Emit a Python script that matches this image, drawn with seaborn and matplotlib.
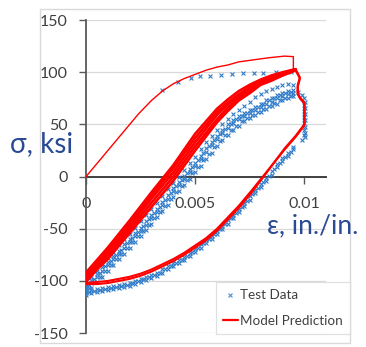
import matplotlib
matplotlib.use("Agg")
import matplotlib.pyplot as plt
from matplotlib.lines import Line2D
from matplotlib.patches import Rectangle
import seaborn as sns

# ---------------- data ----------------
# Model prediction: initial monotonic loading
model_mono_strain = [0, 0.0006, 0.0012, 0.0018, 0.0024, 0.003, 0.0035, 0.004, 0.0045, 0.005,
                     0.0055, 0.006, 0.0065, 0.007, 0.0077, 0.0084, 0.0091, 0.0095, 0.0095]
model_mono_stress = [0, 15, 30, 45, 60, 73, 82, 89, 94, 98,
                     102, 105, 107, 110, 112, 114, 115.5, 115, 103]

# Model prediction: reloading branches (several cycles)
model_reload_strain = [0, 0.0005, 0.001, 0.002, 0.003, 0.004, 0.005, 0.006, 0.0065, 0.007,
                       0.0075, 0.008, 0.0085, 0.009, 0.0096]
model_reload_c1 = [-92, -80, -68, -42, -15, 11, 41, 65, 74, 82, 88, 93, 97, 100, 103]
model_reload_c2 = [-95, -83, -71, -45, -18, 8, 37, 62, 71, 79, 86, 91, 95, 99, 103]
model_reload_c3 = [-97, -85, -74, -48, -21, 4, 33, 59, 69, 77, 84, 90, 94, 98, 102]
model_reload_c4 = [-99, -87, -77, -51, -25, 0, 29, 55, 66, 75, 82, 89, 93, 97, 102]
model_reload_c5 = [-101, -89, -79, -54, -29, -4, 25, 52, 63, 73, 80, 88, 92, 97, 102]

# Model prediction: unloading branches
model_unload_strain = [0.0096, 0.0098, 0.0097, 0.0097, 0.0098, 0.0100, 0.0100, 0.0096,
                       0.0091, 0.0086, 0.0081, 0.0076, 0.007, 0.0065, 0.006, 0.0055, 0.005,
                       0.0045, 0.004, 0.0035, 0.003, 0.0025, 0.002, 0.0015, 0.001, 0.0005, 0.0]
model_unload_a = [102, 94, 86, 79, 75, 70, 49, 38, 26, 13, 0, -13, -28, -39, -50, -59, -66,
                  -73, -79, -84, -89, -93, -96, -98, -100, -101, -102]
model_unload_b = [103, 95, 88, 80, 76, 71, 50, 39, 27, 13, -1, -15, -30, -41, -52, -61, -68,
                  -75, -81, -86, -91, -95, -98, -100, -102, -103, -103]

# Test data: initial monotonic loading
test_mono_strain = [0.0035, 0.0042, 0.0048, 0.0052, 0.0057, 0.0062, 0.0067, 0.0072, 0.0077,
                    0.0081, 0.0087, 0.0094]
test_mono_stress = [83, 91, 95, 96, 96.5, 97.5, 98, 99, 99.5, 99.5, 100, 100.5]

# Test data: cyclic branches, sampled on two interleaved strain grids
test_branch_strain = [0, 0.00025, 0.0005, 0.00075, 0.001, 0.00125, 0.0015, 0.00175, 0.002, 0.00225,
                      0.0025, 0.00275, 0.003, 0.00325, 0.0035, 0.00375, 0.004, 0.00425, 0.0045,
                      0.00475, 0.005, 0.00525, 0.0055, 0.00575, 0.006, 0.00625, 0.0065, 0.00675,
                      0.007, 0.00725, 0.0075, 0.00775, 0.008, 0.00825, 0.0085, 0.00875, 0.009,
                      0.00925, 0.0095]
test_branch_strain_b = [0.000125, 0.000375, 0.000625, 0.000875, 0.001125, 0.001375, 0.001625,
                        0.001875, 0.002125, 0.002375, 0.002625, 0.002875, 0.003125, 0.003375,
                        0.003625, 0.003875, 0.004125, 0.004375, 0.004625, 0.004875, 0.005125,
                        0.005375, 0.005625, 0.005875, 0.006125, 0.006375, 0.006625, 0.006875,
                        0.007125, 0.007375, 0.007625, 0.007875, 0.008125, 0.008375, 0.008625,
                        0.008875, 0.009125, 0.009375]

# Test data: reloading branches
test_reload_c1 = [-103, -96, -90, -84, -78, -72, -66, -60, -55, -49, -43, -37, -31, -25, -19, -12,
                  -6, 0, 6, 13, 19, 26, 33, 39, 45, 50, 55, 60, 64, 68, 72, 76, 79, 82, 84, 86,
                  88, 89, 88]
test_reload_c2 = [-106, -99, -93, -87, -82, -76, -71, -65, -60, -54, -49, -43, -37, -31, -24, -18,
                  -11, -5, 1, 7, 13, 20, 27, 33, 39, 45, 50, 54, 58, 61, 64, 67, 70, 73, 75, 78,
                  80, 82, 83]
test_reload_c3 = [-108, -102, -96, -90, -85, -79, -74, -68, -63, -57, -52, -46, -40, -34, -27, -21,
                  -14, -8, -2, 4, 10, 17, 24, 30, 36, 42, 47, 51, 55, 58, 61, 64, 67, 70, 72, 75,
                  77, 79, 80]
test_reload_c4 = [-112, -107, -101, -96, -90, -85, -79, -74, -68, -63, -57, -51, -45, -39, -33, -27,
                  -20, -14, -8, -2, 4, 10, 17, 23, 29, 35, 40, 45, 49, 53, 56, 59, 62, 65, 68, 70,
                  73, 75, 77]
test_reload_b1 = [-104, -98, -92, -86, -81, -75, -70, -64, -59, -53, -47, -41, -35, -29, -22, -16,
                  -9, -3, 3, 9, 16, 23, 29, 35, 41, 46, 50, 55, 58, 61, 64, 67, 70, 73, 75, 78,
                  80, 81]
test_reload_b2 = [-107, -101, -96, -90, -85, -79, -74, -68, -63, -57, -52, -46, -40, -34, -28, -21,
                  -15, -9, -3, 3, 9, 16, 22, 28, 34, 40, 45, 49, 53, 56, 59, 62, 65, 68, 71, 73,
                  75, 77]

# Test data: drop at peak strain
test_drop_strain = [0.0097, 0.0099, 0.0100, 0.01005, 0.0100, 0.01005, 0.0100, 0.01005, 0.0100,
                    0.01005, 0.0100, 0.01005, 0.0100, 0.01005, 0.0100, 0.01005, 0.0099]
test_drop_stress = [81, 78, 75, 72, 69, 66, 63, 60, 57, 54, 51, 48, 45, 42, 40, 38, 35]

# Test data: unloading branches
test_unload_c1 = [-110, -109, -108, -107, -106, -105, -104, -103, -102, -100, -98, -96, -94, -92,
                  -89, -86, -83, -80, -77, -73, -69, -65, -61, -57, -52, -47, -42, -37, -31, -25,
                  -19, -13, -7, -1, 5, 12, 18, 23, 28]
test_unload_c2 = [-113, -112, -111, -110, -109, -108, -107, -106, -105, -103, -101, -99, -97, -95,
                  -92, -89, -86, -83, -80, -76, -72, -68, -64, -60, -55, -50, -45, -40, -34, -28,
                  -22, -16, -10, -4, 2, 9, 15, 20, 26]
test_unload_b1 = [-111, -110, -109, -108, -107, -106, -105, -104, -102, -100, -98, -96, -94, -92,
                  -89, -86, -83, -80, -76, -72, -68, -64, -60, -55, -50, -45, -40, -35, -29, -23,
                  -17, -11, -5, 1, 7, 13, 19, 24]

x_ticks = [0, 0.005, 0.01]
x_tick_labels = ["0", "0.005", "0.01"]
y_ticks = [-150, -100, -50, 0, 50, 100, 150]

# ---------------- style ----------------
sns.set_style("white")
plt.rcParams["font.family"] = ["Lato", "Open Sans", "DejaVu Sans"]
plt.rcParams["axes.unicode_minus"] = False

RED = "#FF0000"
BLUE = "#2F7BC8"
LEG_BLUE = "#5B9BD5"
LABEL_BLUE = "#2A4A94"
GRID = "#D9D9D9"
AXIS = "#595959"

fig = plt.figure(figsize=(3.66, 3.47), dpi=100)
ax = fig.add_axes([0.235, 0.040, 0.656, 0.902])

# outer chart frame
fig.patches.append(Rectangle((40 / 366, 4 / 347), 310 / 366, 334 / 347,
                             transform=fig.transFigure, fill=False,
                             edgecolor=GRID, lw=1.0))

# ---------------- test data (markers) ----------------
mk = dict(marker="x", color=BLUE, s=8, linewidth=0.8, ax=ax, legend=False, zorder=3)
sns.scatterplot(x=test_mono_strain, y=test_mono_stress, **mk)
for ys in (test_reload_c1, test_reload_c2, test_reload_c3, test_reload_c4):
    sns.scatterplot(x=test_branch_strain, y=ys, **mk)
for ys in (test_reload_b1, test_reload_b2):
    sns.scatterplot(x=test_branch_strain_b, y=ys, **mk)
sns.scatterplot(x=test_drop_strain, y=test_drop_stress, **mk)
for ys in (test_unload_c1, test_unload_c2):
    sns.scatterplot(x=test_branch_strain, y=ys, **mk)
sns.scatterplot(x=test_branch_strain_b, y=test_unload_b1, **mk)

# ---------------- model prediction (lines) ----------------
ln = dict(color=RED, sort=False, estimator=None, ax=ax, legend=False, zorder=4)
sns.lineplot(x=model_mono_strain, y=model_mono_stress, lw=1.0, **ln)
for ys in (model_reload_c1, model_reload_c2, model_reload_c3, model_reload_c4, model_reload_c5):
    sns.lineplot(x=model_reload_strain, y=ys, lw=1.9, **ln)
for ys in (model_unload_a, model_unload_b):
    sns.lineplot(x=model_unload_strain, y=ys, lw=1.5, **ln)

# ---------------- axes ----------------
ax.set_xlim(0, 0.011)
ax.set_ylim(-150, 150)
ax.set_xticks(x_ticks)
ax.set_xticklabels(x_tick_labels)
ax.set_yticks(y_ticks)
ax.set_xlabel("")
ax.set_ylabel("")
ax.set_axisbelow(True)
ax.yaxis.grid(True, color=GRID, lw=0.9)
ax.xaxis.grid(False)

for s in ("top", "right"):
    ax.spines[s].set_visible(False)
ax.spines["bottom"].set_position(("data", 0))
ax.spines["left"].set_position(("data", 0))
ax.spines["bottom"].set_color("#404040")
ax.spines["bottom"].set_linewidth(1.4)
ax.spines["left"].set_color(AXIS)
ax.spines["left"].set_linewidth(1.3)
ax.spines["bottom"].set_zorder(2)

ax.tick_params(axis="y", direction="out", length=5, width=1, color=AXIS,
               labelsize=11.5, labelcolor="#404040", pad=8, left=True)
ax.tick_params(axis="x", direction="out", length=5, width=1, color=AXIS,
               labelsize=11.5, labelcolor="#404040", pad=10, bottom=True)

# axis titles
fig.text(10 / 366, 1 - 152 / 347, "σ, ksi", fontsize=20, color=LABEL_BLUE, va="baseline", ha="left")
fig.text(267 / 366, 1 - 233 / 347, "ε, in./in.", fontsize=19, color=LABEL_BLUE, va="baseline", ha="left")

# legend
handles = [
    Line2D([], [], marker="x", color=LEG_BLUE, lw=0, markersize=3.5, mew=0.9, label="Test Data"),
    Line2D([], [], color=RED, lw=1.6, label="Model Prediction"),
]
leg = fig.legend(handles=handles, loc="upper left", bbox_to_anchor=(216 / 366, 1 - 282 / 347),
                 frameon=True, fancybox=False, fontsize=9.7, handlelength=1.05,
                 handletextpad=0.15, borderpad=0.55, labelspacing=1.0, borderaxespad=0)
leg.get_frame().set_edgecolor(GRID)
leg.get_frame().set_linewidth(0.9)
for t in leg.get_texts():
    t.set_color("#404040")

fig.savefig("out.png", dpi=100)
